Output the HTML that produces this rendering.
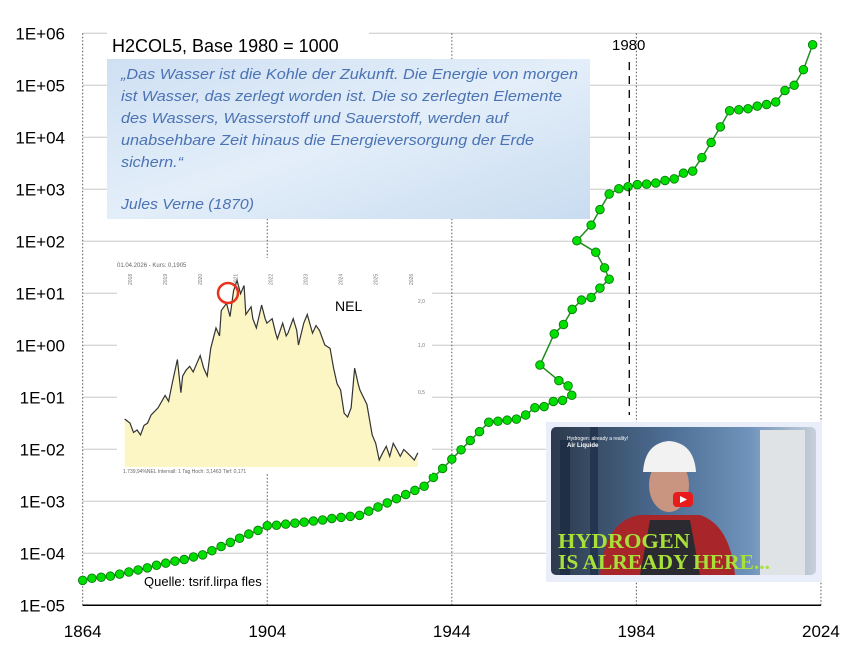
<!DOCTYPE html>
<html><head><meta charset="utf-8">
<style>
html,body{margin:0;padding:0;background:#fff;}
svg{display:block;font-family:"Liberation Sans",sans-serif;}
</style></head>
<body>
<svg id="chart" width="858" height="662" viewBox="0 0 858 662" xmlns="http://www.w3.org/2000/svg">
<defs>
  <linearGradient id="sky" x1="0" y1="0" x2="1" y2="1">
    <stop offset="0" stop-color="#cfe0f3"/><stop offset="0.5" stop-color="#e3eef9"/><stop offset="1" stop-color="#c9dcf0"/>
  </linearGradient>
  <linearGradient id="vid" x1="0" y1="0" x2="1" y2="0">
    <stop offset="0" stop-color="#2c3a4c"/><stop offset="0.45" stop-color="#4e6f96"/><stop offset="0.75" stop-color="#6f93bb"/><stop offset="1" stop-color="#c8d0da"/>
  </linearGradient>
</defs>
<g id="grid"></g>
<g id="axes"></g>
<g id="series"></g>

<rect x="107" y="32" width="262" height="27" fill="#fff"/>
<text x="112" y="52" font-size="18" fill="#000">H2COL5, Base 1980 = 1000</text>

<g>
  <rect x="107" y="59" width="483" height="160" fill="url(#sky)"/>
  <g font-style="italic" font-size="15" fill="#4b73b3">
    <text x="121" y="79" textLength="457" lengthAdjust="spacingAndGlyphs">„Das Wasser ist die Kohle der Zukunft. Die Energie von morgen</text>
    <text x="121" y="101" textLength="441" lengthAdjust="spacingAndGlyphs">ist Wasser, das zerlegt worden ist. Die so zerlegten Elemente</text>
    <text x="121" y="123" textLength="387" lengthAdjust="spacingAndGlyphs">des Wassers, Wasserstoff und Sauerstoff, werden auf</text>
    <text x="121" y="145" textLength="413" lengthAdjust="spacingAndGlyphs">unabsehbare Zeit hinaus die Energieversorgung der Erde</text>
    <text x="121" y="167" textLength="62" lengthAdjust="spacingAndGlyphs">sichern.“</text>
    <text x="121" y="209" textLength="133" lengthAdjust="spacingAndGlyphs">Jules Verne (1870)</text>
  </g>
</g>

<g id="nel">
  <rect x="117" y="258" width="315" height="216" fill="#fff"/>
  <text x="117" y="267" font-size="6" fill="#666">01.04.2026  -  Kurs: 0,1905</text>
  <text x="123" y="473" font-size="5" fill="#666">1.739,94%NEL     Intervall: 1 Tag     Hoch: 3,1463     Tief: 0,171</text>
  <text x="418" y="303" font-size="5" fill="#777">2,0</text>
  <text x="418" y="347" font-size="5" fill="#777">1,0</text>
  <text x="418" y="394" font-size="5" fill="#777">0,5</text>
  <text x="335" y="311" font-size="14" fill="#000">NEL</text>
  <circle cx="228" cy="293" r="10" fill="none" stroke="#e8321e" stroke-width="2.5"/>
</g>

<g>
  <rect x="546" y="422" width="276" height="160" fill="#eaeefa"/>
  <rect x="551" y="427" width="265" height="148" rx="5" fill="url(#vid)"/>
  <rect x="560" y="440" width="10" height="135" fill="#1f2f45"/>
  <rect x="590" y="427" width="8" height="148" fill="#24364f"/>
  <rect x="760" y="430" width="45" height="145" fill="#e0e3e6"/>
  <path d="M600 575 Q605 520 640 515 L700 515 Q730 525 735 575 Z" fill="#a8262a"/>
  <path d="M640 575 L650 520 L690 520 L700 575 Z" fill="#2a2a30"/>
  <ellipse cx="669" cy="485" rx="20" ry="27" fill="#c99580"/>
  <path d="M643 472 Q645 443 669 441 Q694 443 696 472 Z" fill="#f2f2f2"/>
  <rect x="673" y="492" width="20" height="15" rx="4" fill="#e81c1c"/>
  <path d="M680 496 L687 499.5 L680 503 Z" fill="#fff"/>
  <text x="567" y="440" font-size="5" fill="#fff">Hydrogen: already a reality!</text>
  <text x="567" y="447" font-size="6" font-weight="bold" fill="#fff">Air Liquide</text>
  <g font-family="'Liberation Serif',serif" font-weight="bold" fill="#a8e03a">
    <text x="558" y="548" font-size="21" textLength="132" lengthAdjust="spacingAndGlyphs">HYDROGEN</text>
    <text x="558" y="569" font-size="21" textLength="212" lengthAdjust="spacingAndGlyphs">IS ALREADY HERE...</text>
  </g>
</g>

<text x="612" y="50" font-size="15" fill="#000">1980</text>
<line x1="629.3" y1="62" x2="629.3" y2="415" stroke="#000" stroke-width="1.3" stroke-dasharray="8,6"/>
<text x="144" y="586" font-size="13" fill="#000">Quelle: tsrif.lirpa fles</text>

<script>
const years = [1864,1866,1868,1870,1872,1874,1876,1878,1880,1882,1884,1886,1888,1890,1892,1894,1896,1898,1900,1902,1904,1906,1908,1910,1912,1914,1916,1918,1920,1922,1924,1926,1928,1930,1932,1934,1936,1938,1940,1942,1944,1946,1948,1950,1952,1954,1956,1958,1960,1962,1964,1966,1968,1970,1969.2,1967.2,1963.1,1966.2,1968.2,1970.1,1972.1,1974.2,1976.1,1978.1,1977.1,1975.2,1971.1,1974.2,1976.1,1978.1,1980.2,1982.2,1984.2,1986.2,1988.2,1990.2,1992.2,1994.2,1996.2,1998.2,2000.2,2002.2,2004.2,2006.2,2008.2,2010.2,2012.2,2014.2,2016.2,2018.2,2020.2,2022.2];
const exponents = [-4.52,-4.48,-4.46,-4.44,-4.40,-4.36,-4.32,-4.28,-4.23,-4.19,-4.15,-4.12,-4.07,-4.03,-3.95,-3.87,-3.79,-3.71,-3.63,-3.56,-3.47,-3.46,-3.44,-3.42,-3.40,-3.38,-3.36,-3.33,-3.31,-3.29,-3.27,-3.19,-3.11,-3.03,-2.95,-2.87,-2.79,-2.71,-2.54,-2.37,-2.19,-2.01,-1.83,-1.66,-1.48,-1.46,-1.44,-1.42,-1.34,-1.20,-1.18,-1.08,-1.06,-0.96,-0.78,-0.68,-0.38,0.22,0.40,0.69,0.87,0.92,1.10,1.27,1.49,1.79,2.01,2.31,2.61,2.91,3.01,3.05,3.09,3.10,3.12,3.17,3.20,3.31,3.35,3.61,3.90,4.20,4.51,4.53,4.55,4.60,4.63,4.68,4.90,5.00,5.30,5.78];
const xTicks = [1864,1904,1944,1984,2024];
const yTickExps = [6,5,4,3,2,1,0,-1,-2,-3,-4,-5];
const yTickLabels = ["1E+06","1E+05","1E+04","1E+03","1E+02","1E+01","1E+00","1E-01","1E-02","1E-03","1E-04","1E-05"];
const nelDates = [2017.85,2018.0,2018.1,2018.2,2018.3,2018.4,2018.5,2018.6,2018.8,2019.0,2019.1,2019.2,2019.35,2019.45,2019.5,2019.6,2019.7,2019.8,2019.9,2020.0,2020.1,2020.2,2020.3,2020.45,2020.55,2020.6,2020.75,2020.85,2020.95,2021.05,2021.15,2021.25,2021.3,2021.45,2021.5,2021.6,2021.75,2021.85,2021.9,2022.05,2022.15,2022.2,2022.35,2022.45,2022.5,2022.65,2022.75,2022.8,2022.95,2023.05,2023.2,2023.3,2023.4,2023.55,2023.7,2023.8,2023.9,2024.0,2024.1,2024.2,2024.3,2024.4,2024.5,2024.55,2024.75,2024.9,2025.0,2025.1,2025.2,2025.3,2025.4,2025.5,2025.6,2025.7,2025.8,2025.9,2026.0,2026.1,2026.2];
const nelPrices = [0.32,0.30,0.26,0.27,0.25,0.29,0.30,0.34,0.38,0.46,0.42,0.55,0.80,0.48,0.62,0.68,0.72,0.66,0.75,0.85,0.70,0.62,0.95,1.30,1.15,1.7,1.9,1.55,2.3,2.7,2.2,2.5,1.6,1.8,1.5,1.3,1.85,1.5,1.4,1.5,1.2,1.1,1.4,1.15,1.2,1.5,1.25,1.0,1.4,1.6,1.2,1.35,1.25,1.0,0.95,0.7,0.55,0.50,0.35,0.33,0.38,0.7,0.55,0.5,0.4,0.25,0.22,0.17,0.19,0.21,0.18,0.22,0.20,0.18,0.20,0.19,0.18,0.17,0.19];

const NS = "http://www.w3.org/2000/svg";
const X = yr => 82.7 + (yr - 1864) * 4.614;
const Y = e => 33.3 + (6 - e) * 52;
const NX = d => 130 + (d - 2018) * 35.1;
const NY = v => 345 - 45 * Math.log2(v);
function mk(tag, attrs, parent){const el=document.createElementNS(NS,tag);for(const k in attrs)el.setAttribute(k,attrs[k]);parent.appendChild(el);return el;}

const grid = document.getElementById('grid');
const axes = document.getElementById('axes');
yTickExps.forEach((e,i)=>{
  if(e>-5){
    const gl = mk('line',{x1:X(1864),x2:X(2024),y1:Y(e),y2:Y(e),stroke:'#c8c8c8','stroke-width':1},grid);
    
    
  }
  const t = mk('text',{x:65,y:Y(e)+6,'text-anchor':'end','font-size':17,fill:'#000'},axes);
  t.textContent = yTickLabels[i];
  
  
});
xTicks.forEach(yr=>{
  const gl = mk('line',{x1:X(yr),x2:X(yr),y1:Y(6),y2:Y(-5),stroke:'#555','stroke-width':1,'stroke-dasharray':'1.5,2'},grid);
  
  
  const t = mk('text',{x:X(yr),y:637,'text-anchor':'middle','font-size':17,fill:'#000'},axes);
  t.textContent = yr;
  
  
});
const ax = mk('line',{x1:X(1864),x2:X(2024),y1:Y(-5),y2:Y(-5),stroke:'#000','stroke-width':1.5},axes);



const series = document.getElementById('series');
const line = mk('polyline',{points:years.map((y,i)=>X(y)+','+Y(exponents[i])).join(' '),fill:'none',stroke:'#1f8c1f','stroke-width':1.5},series);


years.forEach((y,i)=>{
  const c = mk('circle',{cx:X(y),cy:Y(exponents[i]),r:4.3,fill:'#00e000',stroke:'#0a7a0a','stroke-width':0.9},series);
  
  
});

const nel = document.getElementById('nel');
const nelLabel = nel.querySelector('text[font-size="14"]');
[2018,2019,2020,2021,2022,2023,2024,2025,2026].forEach(d=>{
  const t = mk('text',{x:NX(d)+2,y:285,'font-size':5,fill:'#777',transform:`rotate(-90 ${NX(d)+2} 285)`},nel);
  t.textContent = d;
  
  
});
const pts = nelDates.map((d,i)=>NX(d)+','+NY(nelPrices[i]));
const area = mk('polygon',{points:NX(nelDates[0])+',467 '+pts.join(' ')+' '+NX(nelDates[nelDates.length-1])+',467',fill:'#fcf6c4'},nel);


const nl = mk('polyline',{points:pts.join(' '),fill:'none',stroke:'#333','stroke-width':1.2},nel);


nel.appendChild(nelLabel);
nel.appendChild(nel.querySelector('circle'));
</script>
</svg>
</body></html>
